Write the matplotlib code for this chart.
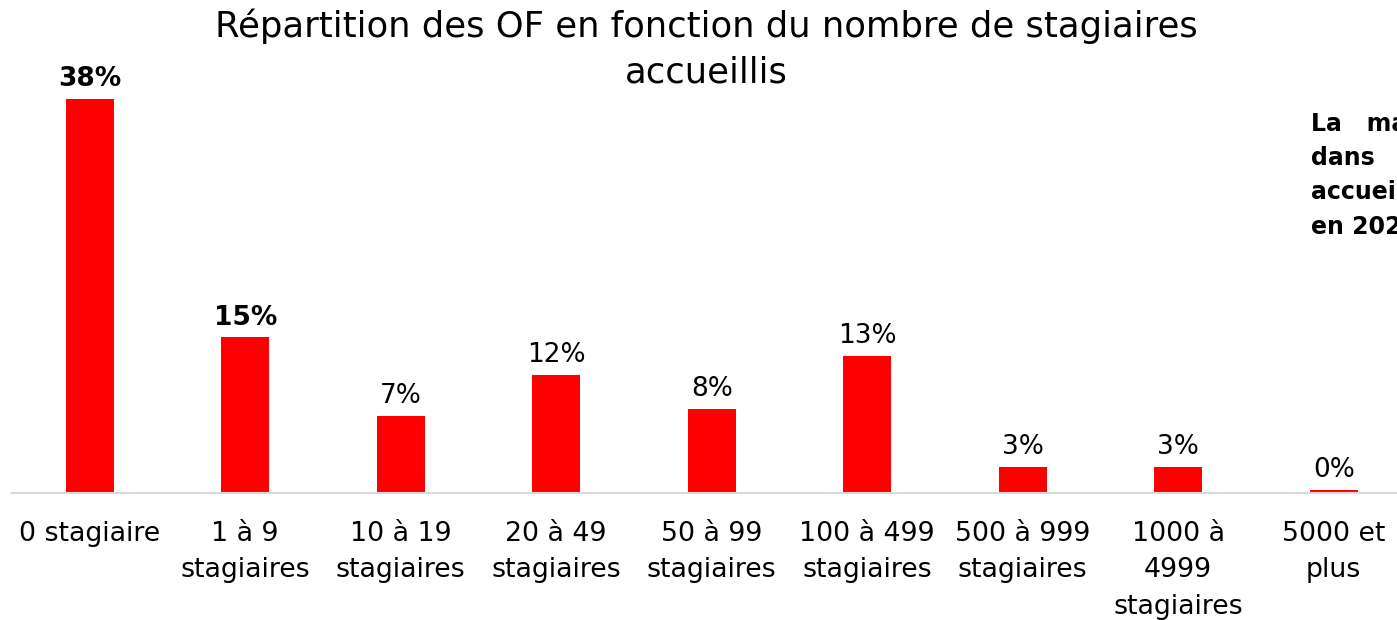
import matplotlib
matplotlib.use('Agg')
import matplotlib.pyplot as plt

# Data
categories = ['0 stagiaire', '1 à 9\nstagiaires', '10 à 19\nstagiaires', '20 à 49\nstagiaires',
              '50 à 99\nstagiaires', '100 à 499\nstagiaires', '500 à 999\nstagiaires',
              '1000 à\n4999\nstagiaires', '5000 et\nplus']
values = [38.0, 15.0, 7.4, 11.4, 8.1, 13.2, 2.5, 2.5, 0.3]
labels = ['38%', '15%', '7%', '12%', '8%', '13%', '3%', '3%', '0%']
bold_labels = [True, True, False, False, False, False, False, False, False]

plt.rcParams['font.family'] = ['DejaVu Sans']

W, H = 1397, 620
fig = plt.figure(figsize=(W / 100, H / 100), dpi=100)
ax = fig.add_axes([12 / W, (H - 493) / H, 9 * 155.5 / W, 414.8 / H])

x = list(range(len(categories)))
bars = ax.bar(x, values, width=0.31, color='#ff0000', zorder=2)
ax.set_xlim(-0.5, 8.5)
ax.set_ylim(0, 40)

for b, lab, bold in zip(bars, labels, bold_labels):
    ax.annotate(lab, (b.get_x() + b.get_width() / 2, b.get_height()),
                xytext=(0, 5), textcoords='offset points', ha='center', va='bottom',
                fontsize=19, fontweight='bold' if bold else 'normal', color='black')

ax.set_xticks(x)
ax.set_xticklabels(categories, fontsize=19.3, linespacing=1.52)
ax.tick_params(axis='x', length=0, pad=20)
ax.set_yticks([])
for s in ['top', 'right', 'left']:
    ax.spines[s].set_visible(False)
ax.spines['bottom'].set_color('#d9d9d9')
ax.spines['bottom'].set_linewidth(1.5)

fig.text(706 / W, 1 - 9 / H, 'Répartition des OF en fonction du nombre de stagiaires\naccueillis',
         ha='center', va='top', fontsize=25.5, linespacing=1.4)

# side comment, cut by the right edge as in the source
fig.text(1311 / W, 1 - 110 / H, 'La   majorité des OF\ndans   le secteur\naccueillent\nen 2022',
         ha='left', va='top', fontsize=17, fontweight='bold', linespacing=1.55)

fig.savefig('out.png', dpi=100)
